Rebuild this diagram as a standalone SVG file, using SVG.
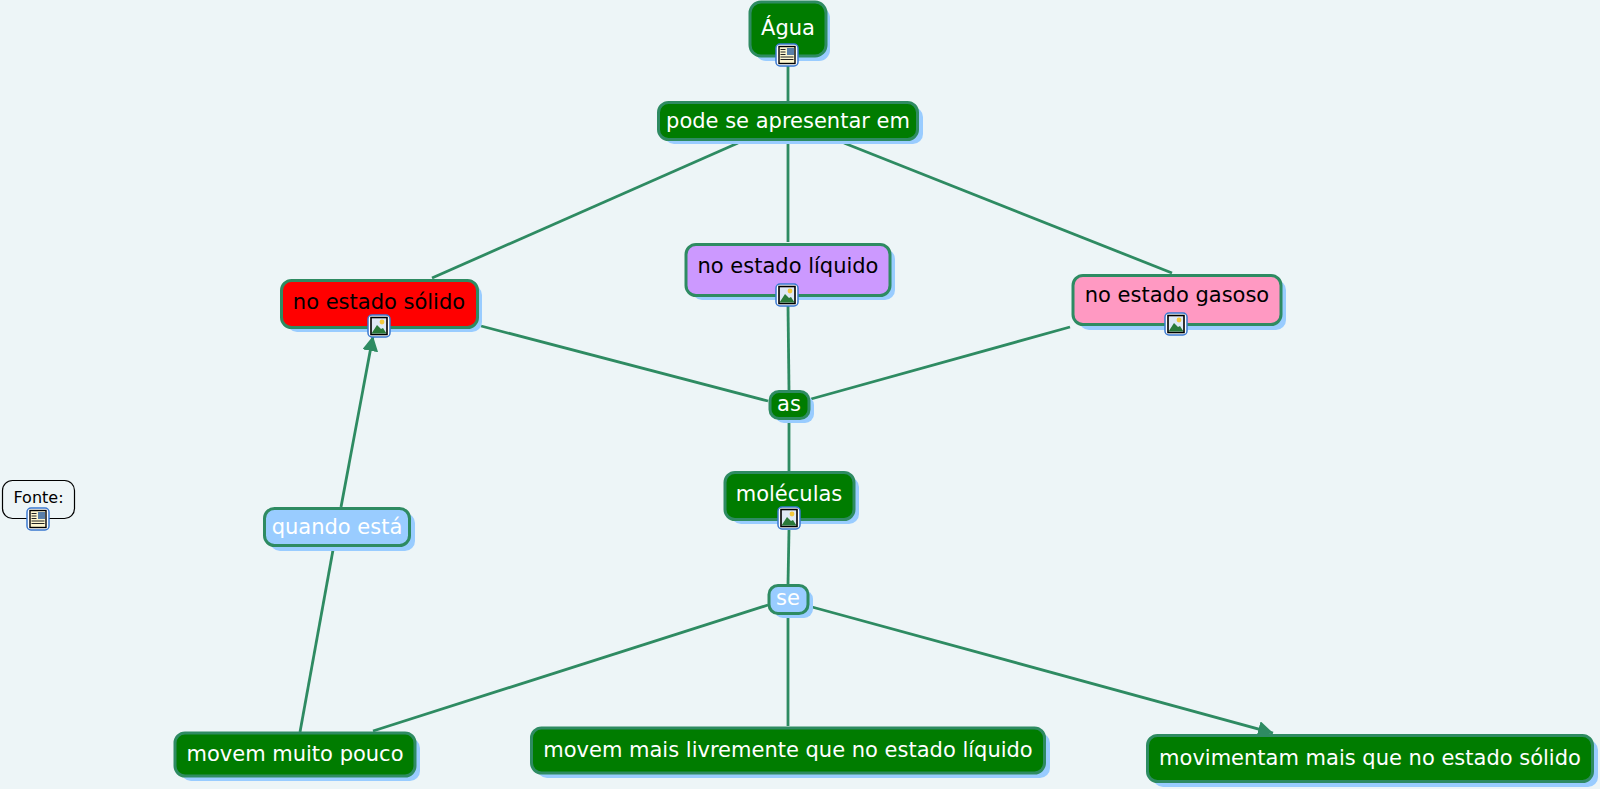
<svg xmlns="http://www.w3.org/2000/svg" width="1600" height="789" viewBox="0 0 1600 789">
<style>
.sh{fill:#99ccff}
.b{stroke:#2e8b62;stroke-width:3}
.g{fill:#007c00}
.t{font-family:"DejaVu Sans",Verdana,sans-serif;font-size:21px;text-anchor:middle}
.w{fill:#fff}
.k{fill:#000}
.c{fill:none;stroke:#2e8b62;stroke-width:2.800}
</style>
<defs>
<marker id="arr" markerUnits="userSpaceOnUse" markerWidth="18" markerHeight="18" refX="15" refY="8" orient="auto"><path d="M0 0L15 8L0 16z" fill="#2e8b62"/></marker>
<g id="ib"><rect x="-11" y="-11" width="22" height="22" rx="4" fill="#fff" stroke="#3a78d0" stroke-width="1.500"/></g>
<g id="doc"><use href="#ib"/><rect x="-8" y="-8.500" width="16" height="17" fill="#fdf6d0" stroke="#000" stroke-width="1.400"/><rect x="0" y="-7" width="7" height="7" fill="#5a7fa8"/><path d="M-6.500-5.500h5M-6.500-3h5M-6.500-.5h5M-6.500 2h13M-6.500 4.500h13" stroke="#222" stroke-width="1.100"/></g>
<g id="pic"><use href="#ib"/><rect x="-8" y="-8.500" width="16" height="17" fill="#dfe9f6" stroke="#000" stroke-width="1.600"/><circle cx="3" cy="-4" r="2.400" fill="#f2c83c"/><path d="M-7.500 7.500L-2-1L2 3L4 2L7.500 7.500z" fill="#2a7a3a"/></g>
</defs>
<rect width="1600" height="789" fill="#edf5f7"/>
<g id="connectors">
<path class="c" d="M788 60V101"/>
<path class="c" d="M738 143L432 278"/>
<path class="c" d="M788 143V242"/>
<path class="c" d="M844 143L1172 273"/>
<path class="c" d="M788 306L789 390"/>
<path class="c" d="M481 326L768 401"/>
<path class="c" d="M1070 327L811 399"/>
<path class="c" d="M789 420V471"/>
<path class="c" d="M789 530L788 584"/>
<path class="c" d="M768 605L373 731"/>
<path class="c" d="M788 615V726"/>
<path class="c" d="M812 607L1273 733" marker-end="url(#arr)"/>
<path class="c" d="M300 732L333 550"/>
<path class="c" d="M341 507L373 336" marker-end="url(#arr)"/>
</g>
<g id="n-agua"><rect class="sh" x="755" y="7" width="75" height="54" rx="11"/><rect class="g b" x="750" y="2" width="76" height="54" rx="11"/><text class="t w" x="788" y="35">Água</text><use href="#doc" x="787" y="55"/></g>
<g id="n-pode"><rect class="sh" x="664" y="107" width="259" height="37" rx="10"/><rect class="g b" x="658.500" y="102.500" width="259" height="37" rx="10"/><text class="t w" x="788" y="128">pode se apresentar em</text></g>
<g id="n-liquido"><rect class="sh" x="692" y="249" width="203" height="51" rx="10"/><rect class="b" fill="#cc99ff" x="686" y="244.500" width="204" height="51" rx="10"/><text class="t k" x="788" y="273">no estado líquido</text><use href="#pic" x="787" y="295"/></g>
<g id="n-solido"><rect class="sh" x="287" y="285" width="195" height="47" rx="10"/><rect class="b" fill="#ff0000" x="281.500" y="280.500" width="196" height="47" rx="10"/><text class="t k" x="379" y="309">no estado sólido</text><use href="#pic" x="379" y="326"/></g>
<g id="n-gasoso"><rect class="sh" x="1079" y="280" width="207" height="50" rx="10"/><rect class="b" fill="#ff99c2" x="1073" y="275.500" width="208" height="49" rx="10"/><text class="t k" x="1177" y="302">no estado gasoso</text><use href="#pic" x="1176" y="324"/></g>
<g id="n-as"><rect class="sh" x="775" y="396" width="39" height="27" rx="9"/><rect class="g b" x="770" y="391.500" width="39" height="27" rx="9"/><text class="t w" x="789" y="411">as</text></g>
<g id="n-moleculas"><rect class="sh" x="731" y="477" width="128" height="47" rx="10"/><rect class="g b" x="725" y="472.500" width="129" height="47" rx="10"/><text class="t w" x="789" y="501">moléculas</text><use href="#pic" x="789" y="518"/></g>
<g id="n-se"><rect class="sh" x="774" y="590" width="39" height="28" rx="9"/><rect class="b" fill="#99ccff" x="769" y="585.500" width="39" height="28" rx="9"/><text class="t w" x="788" y="605">se</text></g>
<g id="n-quando"><rect class="sh" x="270" y="513" width="145" height="38" rx="10"/><rect class="b" fill="#99ccff" x="264.500" y="508.500" width="145" height="37" rx="10"/><text class="t w" x="337" y="534">quando está</text></g>
<g id="n-muito"><rect class="sh" x="181" y="738" width="239" height="43" rx="10"/><rect class="g b" x="175" y="733" width="240" height="43" rx="10"/><text class="t w" x="295" y="761">movem muito pouco</text></g>
<g id="n-livre"><rect class="sh" x="537" y="733" width="513" height="45" rx="10"/><rect class="g b" x="531.500" y="728" width="513" height="45" rx="10"/><text class="t w" x="788" y="757">movem mais livremente que no estado líquido</text></g>
<g id="n-movimentam"><rect class="sh" x="1153" y="740" width="445" height="47" rx="10"/><rect class="g b" x="1147.500" y="735.500" width="445" height="46" rx="10"/><text class="t w" x="1370" y="765">movimentam mais que no estado sólido</text></g>
<g id="n-fonte"><rect x="2.500" y="480.500" width="72" height="38" rx="10" fill="#edf5f7" stroke="#000" stroke-width="1.200"/><text x="38.500" y="503" font-family="'DejaVu Sans',Verdana,sans-serif" font-size="16" text-anchor="middle" fill="#000">Fonte:</text><use href="#doc" x="38" y="519"/></g>
</svg>
